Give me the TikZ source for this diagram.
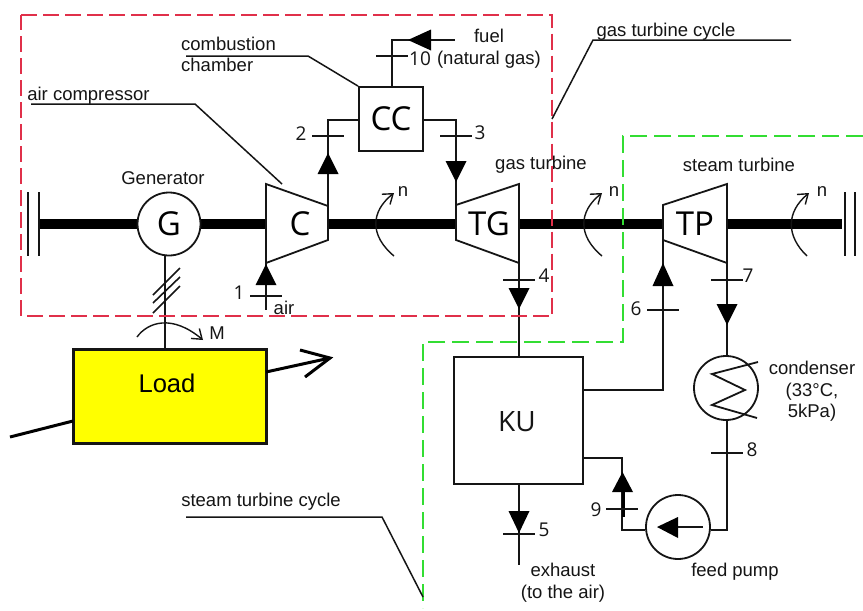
\documentclass[tikz,border=0pt]{standalone}
\usepackage{fontspec}
\setmainfont{Liberation Sans}
\newfontfamily\symfont{Open Sans}
\usetikzlibrary{arrows.meta}
\definecolor{ink}{HTML}{151515}
\definecolor{redbox}{HTML}{E0304A}
\definecolor{greenbox}{HTML}{33DD33}
\definecolor{loadfill}{HTML}{FFFF00}
\tikzset{
  pipe/.style={draw=ink,line width=1.8pt},
  leader/.style={draw=ink,line width=1.5pt},
  shaft/.style={draw=black,line width=9.5pt},
  bearing/.style={draw=ink,line width=1.8pt},
  tick/.style={draw=ink,line width=1.6pt},
  head/.style={fill=black,draw=none},
  rot/.style={draw=ink,line width=1.4pt,-{Straight Barb[length=9pt,width=13pt,line width=1.4pt]}},
  boxnode/.style={draw=ink,line width=1.8pt,fill=white,inner sep=0pt},
  circnode/.style={draw=ink,line width=1.8pt,fill=white,circle,inner sep=0pt},
  big/.style={font=\symfont\fontsize{33}{33}\selectfont,inner sep=0pt},
  lab/.style={font=\fontsize{18.5}{21.5}\selectfont,inner sep=0pt,align=center,text=ink,yshift=-1.5pt},
  num/.style={font=\symfont\fontsize{19}{20}\selectfont,inner sep=0pt,text=ink},
  dashred/.style={draw=redbox,line width=2pt,dash pattern=on 16pt off 6pt},
  dashgreen/.style={draw=greenbox,line width=2pt,dash pattern=on 17pt off 7pt},
  thickline/.style={draw=black,line width=3pt},
}
\newcommand{\headup}[3]{\fill[head] (#1,#2) -- (#1-10.5,#3) -- (#1+10.5,#3) -- cycle;}
\begin{document}
\begin{tikzpicture}[x=1pt,y=-1pt]
\useasboundingbox[fill=white] (0,0) rectangle (863,611);

% named end points
\coordinate (bearLa) at (28,192); \coordinate (bearLb) at (28,256);
\coordinate (bearLc) at (39,192); \coordinate (bearLd) at (39,256);
\coordinate (bearRa) at (845,192); \coordinate (bearRb) at (845,256);
\coordinate (bearRc) at (855,192); \coordinate (bearRd) at (855,256);
\coordinate (shaftL) at (39,224); \coordinate (shaftR) at (842,224);

% shaft
\draw[shaft] (shaftL) -- (shaftR);
\draw[bearing] (bearLa) -- (bearLb); \draw[bearing] (bearLc) -- (bearLd);
\draw[bearing] (bearRa) -- (bearRb); \draw[bearing] (bearRc) -- (bearRd);

% compressor and turbines
\coordinate (Ca) at (266,184); \coordinate (Cb) at (328,206); \coordinate (Cc) at (328,240); \coordinate (Cd) at (266,263);
\coordinate (Ta) at (456,205); \coordinate (Tb) at (519,184); \coordinate (Tc) at (519,263); \coordinate (Td) at (456,240);
\coordinate (Pa) at (663,205); \coordinate (Pb) at (727,184); \coordinate (Pc) at (727,263); \coordinate (Pd) at (663,240);
\draw[pipe,fill=white,line join=miter] (Ca) -- (Cb) -- (Cc) -- (Cd) -- cycle;
\draw[pipe,fill=white,line join=miter] (Ta) -- (Tb) -- (Tc) -- (Td) -- cycle;
\draw[pipe,fill=white,line join=miter] (Pa) -- (Pb) -- (Pc) -- (Pd) -- cycle;
\node[big] (Clab) at (300,224) {C};
\node[big] (TGlab) at (489,224) {TG};
\node[big] (TPlab) at (695,224) {TP};

% nodes
\node[circnode,minimum size=63pt] (G) at (169,224) {\symfont\fontsize{33}{33}\selectfont G};
\node[boxnode,minimum width=64pt,minimum height=64pt] (CC) at (391,119) {\symfont\fontsize{33}{33}\selectfont CC};
\node[boxnode,minimum width=129pt,minimum height=127pt] (KU) at (518.5,420.5) {};
\node[inner sep=0pt,font=\symfont\fontsize{28}{28}\selectfont,text=ink] (KUlab) at (517,422) {KU};
\node[circnode,minimum size=64pt] (cond) at (726,388) {};
\node[circnode,minimum size=64pt] (pump) at (678,527) {};
\node[draw=ink,line width=3pt,fill=loadfill,minimum width=193pt,minimum height=94pt,inner sep=0pt] (load) at (169.5,396) {};
\node[font=\fontsize{25.6}{26}\selectfont,inner sep=0pt] (loadlab) at (167,383) {Load};

% generator to load
\coordinate (gload) at (165,255);
\coordinate (loadtop) at (165,348);
\draw[draw=ink,line width=2.4pt] (gload) -- (loadtop);
\coordinate (h1a) at (153,295); \coordinate (h1b) at (180,268);
\coordinate (h2a) at (153,303); \coordinate (h2b) at (180,277);
\coordinate (h3a) at (153,313); \coordinate (h3b) at (180,286);
\draw[tick] (h1a) -- (h1b); \draw[tick] (h2a) -- (h2b); \draw[tick] (h3a) -- (h3b);
\coordinate (Ma) at (137,337); \coordinate (Mb) at (203,340);
\draw[rot] (Ma) .. controls (148,322) and (172,314) .. (Mb);

% load arrows
\coordinate (loadout) at (266,372); \coordinate (loadtip) at (330,358);
\coordinate (loadin) at (10,437); \coordinate (loadinb) at (73,421);
\coordinate (barbA) at (300,350); \coordinate (barbB) at (305,377);
\draw[thickline] (loadout) -- (loadtip);
\draw[thickline] (barbA) -- (loadtip) -- (barbB);
\draw[thickline] (loadin) -- (loadinb);

% pipes
\coordinate (c2) at (328,120);
\draw[pipe] (CC.west |- c2) -- (c2) -- (Cb);
\coordinate (c3) at (456,120);
\draw[pipe] (CC.east |- c3) -- (c3) -- (Ta);
\coordinate (f1) at (392,40); \coordinate (f2) at (455,40);
\draw[pipe] (f1 |- CC.north) -- (f1) -- (f2);
\coordinate (a1) at (266,310);
\draw[pipe] (Cd) -- (a1);
\draw[pipe] (Tc) -- (Tc |- KU.north);
\coordinate (c6) at (663,390);
\draw[pipe] (Pd) -- (c6) -- (KU.east |- c6);
\draw[pipe] (Pc) -- (Pc |- cond.north);
\coordinate (c8) at (727,530);
\draw[pipe] (cond.south -| c8) -- (c8) -- (pump.east |- c8);
\coordinate (c9a) at (622,530); \coordinate (c9b) at (622,458);
\draw[pipe] (pump.west |- c9a) -- (c9a) -- (c9b) -- (KU.east |- c9b);
\coordinate (c9s) at (623.5,492); \coordinate (c9e) at (623.5,517);
\draw[draw=black,line width=2.6pt] (c9s) -- (c9e);
\coordinate (ex) at (519,565);
\draw[pipe] (KU.south -| ex) -- (ex);

% arrow heads
\headup{328}{153}{174}
\headup{266}{264}{285}
\headup{663}{263}{286}
\headup{622.5}{472}{492}
\headup{456}{182}{161}
\headup{519}{309}{288}
\headup{727}{325}{304}
\headup{519}{533}{511}
\fill[head] (408,40) -- (431,29.5) -- (431,50.5) -- cycle;
\fill[head] (657,527) -- (678,517) -- (678,538) -- cycle;
\coordinate (pi) at (703,527); \coordinate (pj) at (678,527);
\draw[pipe] (pi) -- (pj);

% zigzag
\coordinate (z1) at (758,362); \coordinate (z2) at (712,374); \coordinate (z3) at (745,390); \coordinate (z4) at (712,405); \coordinate (z5) at (757,418);
\draw[pipe,line join=miter] (z1) -- (z2) -- (z3) -- (z4) -- (z5);

% ticks
\foreach \tx/\ty/\hw in {328/136/16, 456/136/16, 392/56/16, 266/296/16, 519/280/16, 663/310/16, 727/280/16, 727/453/16, 622/509/16, 519/534/16}{
  \draw[tick] (\tx-\hw,\ty) -- (\tx+\hw,\ty);
}

% rotation arcs
\coordinate (n1a) at (394,256); \coordinate (n1b) at (394,193);
\coordinate (n2a) at (602,256); \coordinate (n2b) at (602,193);
\coordinate (n3a) at (807,256); \coordinate (n3b) at (809,193);
\draw[rot] (n1a) .. controls (370,236) and (370,212) .. (n1b);
\draw[rot] (n2a) .. controls (578,236) and (578,212) .. (n2b);
\draw[rot] (n3a) .. controls (786,236) and (786,212) .. (n3b);

% system boundaries
\coordinate (r1) at (21,14.5); \coordinate (r2) at (552,14.5); \coordinate (r3) at (552,316); \coordinate (r4) at (21,316);
\draw[dashred] (r1) -- (r2) -- (r3) -- (r4) -- cycle;
\coordinate (g1) at (863,136); \coordinate (g2) at (623,136); \coordinate (g3) at (623,342); \coordinate (g4) at (423,342); \coordinate (g5) at (423,608);
\draw[dashgreen] (g1) -- (g2) -- (g3) -- (g4) -- (g5);

% leaders
\coordinate (la1) at (31,104); \coordinate (la2) at (195,104); \coordinate (la3) at (282,184);
\draw[leader] (la1) -- (la2) -- (la3);
\coordinate (lb1) at (186,56); \coordinate (lb2) at (308,56);
\draw[leader] (lb1) -- (lb2) -- (CC.north west);
\coordinate (lc1) at (552,119); \coordinate (lc2) at (593,40); \coordinate (lc3) at (791,40);
\draw[leader] (lc1) -- (lc2) -- (lc3);
\coordinate (ld1) at (186,517); \coordinate (ld2) at (382,517); \coordinate (ld3) at (423,597);
\draw[leader] (ld1) -- (ld2) -- (ld3);

% labels
\node[lab] (t1) at (88.5,94) {air compressor};
\node[lab,align=left,anchor=west] (t2) at (181,53) {combustion\\chamber};
\node[lab] (t3) at (666,30) {gas turbine cycle};
\node[lab] (t4) at (261,500) {steam turbine cycle};
\node[lab] (t5) at (163,177) {Generator};
\node[lab] (t6) at (541,163) {gas turbine};
\node[lab] (t7) at (739,163) {steam turbine};
\node[lab] (t8) at (489,47) {fuel\\(natural gas)};
\node[lab] (t9) at (284,306) {air};
\node[lab] (t10) at (563,581) {exhaust\\(to the air)};
\node[lab] (t11) at (735,570) {feed pump};
\node[lab] (t12) at (812,390) {condenser\\(33°C,\\5kPa)};
\node[lab] (t13) at (217,332) {M};
\node[lab] (t14) at (614,190) {n};
\node[lab] (t15) at (403,190) {n};
\node[lab] (t16) at (822,190) {n};
\node[num] (n1) at (239,293) {1};
\node[num] (n2) at (301,134) {2};
\node[num] (n3) at (480,133) {3};
\node[num] (n4) at (544,276) {4};
\node[num] (n5) at (544,530) {5};
\node[num] (n6) at (636,309) {6};
\node[num] (n7) at (748,276) {7};
\node[num] (n8) at (752,450) {8};
\node[num] (n9) at (596,510) {9};
\node[num] (n10) at (420,59) {10};
\end{tikzpicture}
\end{document}
